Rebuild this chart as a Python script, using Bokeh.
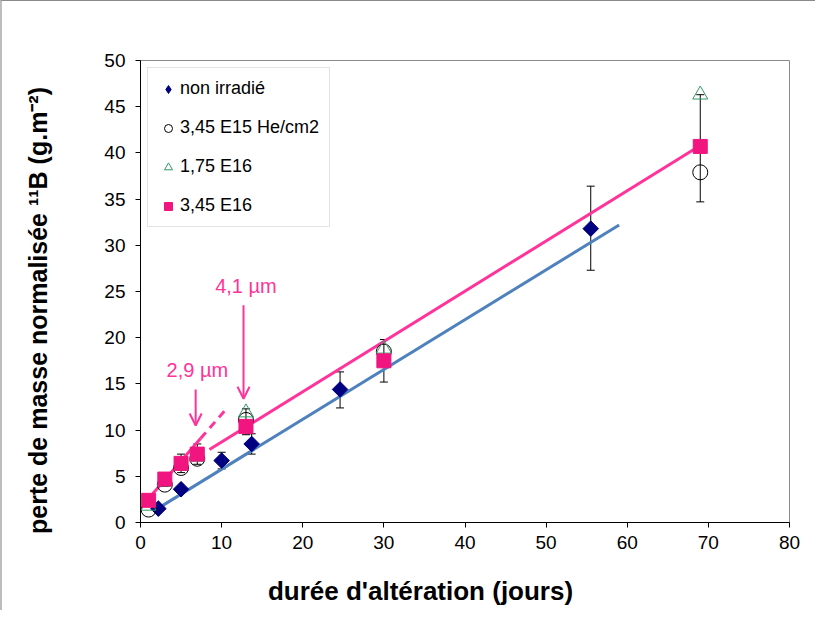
import math
from bokeh.plotting import figure
from bokeh.models import (ColumnDataSource, Whisker, TeeHead, Arrow, OpenHead, Label,
                          Range1d, SingleIntervalTicker, Legend, LegendItem)
from bokeh.embed import file_html
from bokeh.resources import INLINE

# ---- data ----
x_nonirr = [2.2, 5.0, 10.0, 13.7, 24.6, 55.5]
y_nonirr = [1.5, 3.6, 6.7, 8.5, 14.4, 31.8]

x_irr = [1, 3, 5, 7, 13, 30, 69]
y_e15 = [1.4, 4.1, 5.9, 6.9, 11.1, 18.5, 37.9]
y_175e16 = [1.8, 4.4, 6.1, 7.1, 11.9, 18.8, 46.3]
y_345e16 = [2.4, 4.7, 6.4, 7.4, 10.4, 17.5, 40.7]

err_x = [3, 5, 7, 10, 13, 13.7, 24.6, 30, 55.5, 69]
err_lo = [3.9, 5.4, 6.3, 5.8, 9.5, 7.4, 12.4, 15.2, 27.3, 34.7]
err_hi = [5.4, 7.4, 8.5, 7.6, 12.3, 9.6, 16.3, 19.8, 36.4, 46.3]

fit_blue_x = [2.1, 59.0]
fit_blue_y = [1.5, 32.2]
fit_pink_x = [8.5, 69.0]
fit_pink_y = [7.9, 40.8]
early_pink_x = [0.9, 7.4]
early_pink_y = [2.5, 9.1]
early_dash_x = [7.4, 10.5]
early_dash_y = [9.1, 12.2]

arrow_x = [6.8, 12.7]
arrow_top = [14.4, 23.5]
arrow_tip = [10.5, 13.4]
arrow_labels = ["2,9 µm", "4,1 µm"]
label_x = [7.0, 13.0]
label_y = [16.5, 25.6]

legend_labels = ["non irradié", "3,45 E15 He/cm2", "1,75 E16", "3,45 E16"]
x_title = "durée d'altération (jours)"
y_title = "perte de masse normalisée ¹¹B (g.m⁻²)"

FONT = "Liberation Sans"
PINK_LINE = "#ff3399"
PINK_MARK = "#f0157f"
BLUE = "#4f81bd"
NAVY = "#000080"
GREEN = "#339966"

p = figure(width=815, height=610, output_backend="svg", toolbar_location=None,
           x_range=Range1d(0, 80), y_range=Range1d(0, 50),
           min_border_left=138, min_border_right=28, min_border_top=59, min_border_bottom=89)
p.styles = {"border-top": "1px solid #8a8a8a", "border-left": "2px solid #bdbdbd"}

p.xgrid.visible = False
p.ygrid.visible = False
p.outline_line_color = "#8a8a8a"
p.outline_line_width = 1

for ax, interval in ((p.xaxis[0], 10), (p.yaxis[0], 5)):
    ax.ticker = SingleIntervalTicker(interval=interval)
    ax.minor_tick_line_color = None
    ax.major_tick_in = 0
    ax.major_tick_out = 5
    ax.axis_line_color = "black"
    ax.major_tick_line_color = "black"
    ax.major_label_text_font = FONT
    ax.major_label_text_font_size = "19px"
    ax.major_label_text_color = "black"

p.xaxis.major_label_standoff = 8
p.yaxis.major_label_standoff = 10

# axis titles placed in the side panels, off-centre like the reference
p.add_layout(Label(x=280, y=-9, x_units="screen", y_units="screen", text=x_title,
                   text_align="center", text_baseline="middle", text_font=FONT,
                   text_font_style="bold", text_font_size="26px", text_color="black"),
             "below")
p.add_layout(Label(x=-36, y=212, x_units="screen", y_units="screen", text=y_title,
                   angle=math.pi / 2, text_align="center", text_baseline="middle",
                   text_font=FONT, text_font_style="bold", text_font_size="25px",
                   text_color="black"),
             "left")

# fit lines
p.line(fit_blue_x, fit_blue_y, line_color=BLUE, line_width=3)
p.line(fit_pink_x, fit_pink_y, line_color=PINK_LINE, line_width=3)
p.line(early_pink_x, early_pink_y, line_color=PINK_LINE, line_width=3)
p.line(early_dash_x, early_dash_y, line_color=PINK_LINE, line_width=3, line_dash="8 6")

# error bars
err_src = ColumnDataSource(dict(x=err_x, lo=err_lo, hi=err_hi))
w = Whisker(source=err_src, base="x", lower="lo", upper="hi", dimension="height",
            line_color="black", line_width=1,
            upper_head=TeeHead(size=8, line_color="black", line_width=1),
            lower_head=TeeHead(size=8, line_color="black", line_width=1),
            level="underlay")
p.add_layout(w)

# markers
r_d = p.scatter(x_nonirr, y_nonirr, marker="square", size=11, angle=math.pi / 4,
                fill_color=NAVY, line_color=NAVY)
r_dl = p.scatter(x_nonirr, y_nonirr, marker="diamond", size=14,
                 fill_color=NAVY, line_color=NAVY)
r_c = p.scatter(x_irr, y_e15, marker="circle", size=15, fill_color=None, line_color="black",
                line_width=1)
r_t = p.scatter(x_irr, y_175e16, marker="triangle", size=15, fill_color=None, line_color=GREEN,
                line_width=1)
r_s = p.scatter(x_irr, y_345e16, marker="square", size=14, fill_color=PINK_MARK,
                line_color=PINK_MARK)

# arrows and labels
for ax_, t, b, lab, lx, ly in zip(arrow_x, arrow_top, arrow_tip, arrow_labels, label_x, label_y):
    p.add_layout(Arrow(x_start=ax_, y_start=t, x_end=ax_, y_end=b,
                       line_color=PINK_LINE, line_width=2,
                       end=OpenHead(size=12, line_color=PINK_LINE, line_width=2)))
    p.add_layout(Label(x=lx, y=ly, text=lab, text_align="center", text_baseline="middle",
                       text_font=FONT, text_font_size="20px", text_color=PINK_LINE))

lg = Legend(items=[LegendItem(label=legend_labels[0], renderers=[r_dl]),
                   LegendItem(label=legend_labels[1], renderers=[r_c]),
                   LegendItem(label=legend_labels[2], renderers=[r_t]),
                   LegendItem(label=legend_labels[3], renderers=[r_s])])
lg.location = "top_left"
lg.margin = 7
lg.padding = 10
lg.spacing = 18
lg.glyph_width = 20
lg.glyph_height = 20
lg.label_height = 20
lg.label_standoff = 2
lg.label_text_font = FONT
lg.label_text_font_size = "18px"
lg.label_text_color = "black"
lg.border_line_color = "#c8c8c8"
lg.border_line_width = 1
lg.background_fill_color = "white"
lg.background_fill_alpha = 1.0
p.add_layout(lg, "center")

open("out.html", "w").write(file_html(p, INLINE))
